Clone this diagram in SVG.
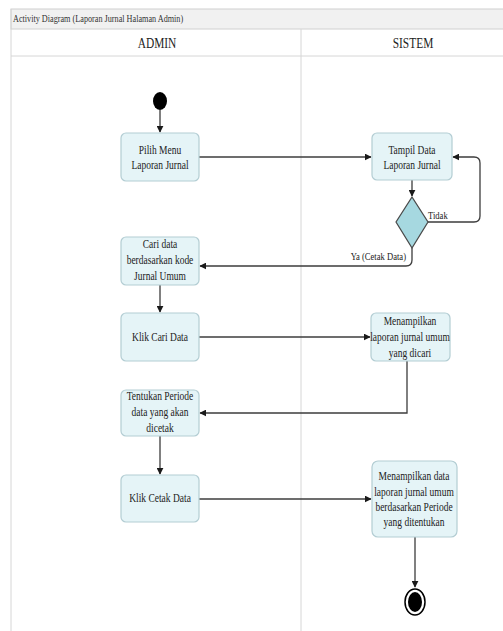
<svg xmlns="http://www.w3.org/2000/svg" width="503" height="631" viewBox="0 0 503 631">
<style>
.frame{fill:none;stroke:#d6d6d6;stroke-width:1}
.box{fill:#e5f4f7;stroke:#b3cdd3;stroke-width:1.2}
text{font-family:'Liberation Serif','DejaVu Serif',serif;fill:#222}
.t{font-size:12.5px;text-anchor:middle}
.h{font-size:15px;text-anchor:middle}
.lbl{font-size:11px}
.ttl{font-size:10.5px;fill:#333}
.c{fill:none;stroke:#3c3c3c;stroke-width:1.3}
</style>
<defs>
<marker id="arr" viewBox="0 0 10 10" refX="9" refY="5" markerWidth="7" markerHeight="7" orient="auto" markerUnits="userSpaceOnUse">
<path d="M0,0 L10,5 L0,10 z" fill="#1a1a1a"/>
</marker>
</defs>
<rect x="0" y="0" width="503" height="631" fill="#ffffff"/>
<g id="frame">
<rect x="11" y="9" width="500" height="20" fill="#f1f1f1" stroke="#d0d0d0"/>
<line class="frame" x1="11" y1="9" x2="11" y2="631"/>
<line class="frame" x1="11" y1="56" x2="503" y2="56"/>
<line class="frame" x1="301" y1="29" x2="301" y2="631"/>
<text class="ttl" font-family="Liberation Serif, serif" transform="translate(13 0) scale(0.78 1)" x="0" y="22">Activity Diagram (Laporan Jurnal Halaman Admin)</text>
<text class="h" font-family="Liberation Serif, serif" transform="translate(157 0) scale(0.76 1)" x="0" y="48">ADMIN</text>
<text class="h" font-family="Liberation Serif, serif" transform="translate(413 0) scale(0.76 1)" x="0" y="48">SISTEM</text>
</g>
<g id="connectors">
<line class="c" x1="160" y1="110" x2="160" y2="132" marker-end="url(#arr)"/>
<line class="c" x1="199" y1="157" x2="371" y2="157" marker-end="url(#arr)"/>
<line class="c" x1="412" y1="180" x2="412" y2="196" marker-end="url(#arr)"/>
<path class="c" d="M428,222 H474 Q480,222 480,216 V163 Q480,157 474,157 H453" marker-end="url(#arr)"/>
<path class="c" d="M412,248 V260 Q412,266 406,266 H200" marker-end="url(#arr)"/>
<line class="c" x1="160" y1="285" x2="160" y2="312" marker-end="url(#arr)"/>
<line class="c" x1="199" y1="337" x2="370" y2="337" marker-end="url(#arr)"/>
<path class="c" d="M407,361 V413 H200" marker-end="url(#arr)"/>
<line class="c" x1="160" y1="436" x2="160" y2="474" marker-end="url(#arr)"/>
<line class="c" x1="199" y1="499" x2="371" y2="499" marker-end="url(#arr)"/>
<line class="c" x1="415" y1="537" x2="415" y2="587" marker-end="url(#arr)"/>
<text class="lbl" transform="translate(428 0) scale(0.78 1)" x="0" y="219">Tidak</text>
<text class="lbl" transform="translate(406 0) scale(0.78 1)" x="0" y="260" text-anchor="end">Ya (Cetak Data)</text>
</g>
<g id="start"><ellipse cx="160" cy="101" rx="7" ry="9" fill="#000"/></g>
<g id="pilih">
<rect class="box" x="121" y="133" width="78" height="48" rx="5"/>
<text class="t" transform="translate(160 0) scale(0.76 1)"><tspan x="0" y="154">Pilih Menu</tspan><tspan x="0" y="169">Laporan Jurnal</tspan></text>
</g>
<g id="tampil">
<rect class="box" x="372" y="133" width="80" height="47" rx="5"/>
<text class="t" transform="translate(412 0) scale(0.76 1)"><tspan x="0" y="154">Tampil Data</tspan><tspan x="0" y="169">Laporan Jurnal</tspan></text>
</g>
<g id="decision">
<path d="M412,197 L428,222 L412,248 L396,222 Z" fill="#a6d8e0" stroke="#4a4a4a" stroke-width="1.3" stroke-linejoin="round"/>
</g>
<g id="cari">
<rect class="box" x="121" y="237" width="78" height="48" rx="5"/>
<text class="t" transform="translate(160 0) scale(0.76 1)"><tspan x="0" y="248">Cari data</tspan><tspan x="0" y="264">berdasarkan kode</tspan><tspan x="0" y="280">Jurnal Umum</tspan></text>
</g>
<g id="klikcari">
<rect class="box" x="121" y="313" width="78" height="48" rx="5"/>
<text class="t" transform="translate(160 0) scale(0.76 1)" x="0" y="341">Klik Cari Data</text>
</g>
<g id="menampilkan1">
<rect class="box" x="371" y="313" width="79" height="48" rx="5"/>
<text class="t" transform="translate(410 0) scale(0.76 1)"><tspan x="0" y="325">Menampilkan</tspan><tspan x="0" y="341">laporan jurnal umum</tspan><tspan x="0" y="357">yang dicari</tspan></text>
</g>
<g id="tentukan">
<rect class="box" x="121" y="390" width="78" height="46" rx="5"/>
<text class="t" transform="translate(160 0) scale(0.76 1)"><tspan x="0" y="400">Tentukan Periode</tspan><tspan x="0" y="416">data yang akan</tspan><tspan x="0" y="432">dicetak</tspan></text>
</g>
<g id="klikcetak">
<rect class="box" x="121" y="475" width="78" height="47" rx="5"/>
<text class="t" transform="translate(160 0) scale(0.76 1)" x="0" y="502">Klik Cetak Data</text>
</g>
<g id="menampilkan2">
<rect class="box" x="372" y="461" width="85" height="76" rx="6"/>
<text class="t" transform="translate(414 0) scale(0.76 1)"><tspan x="0" y="480">Menampilkan data</tspan><tspan x="0" y="496">laporan jurnal umum</tspan><tspan x="0" y="511">berdasarkan Periode</tspan><tspan x="0" y="526">yang ditentukan</tspan></text>
</g>
<g id="end">
<ellipse cx="415" cy="602" rx="10" ry="13" fill="#fff" stroke="#000" stroke-width="1.5"/>
<ellipse cx="415" cy="602" rx="7" ry="10" fill="#000"/>
</g>
</svg>
